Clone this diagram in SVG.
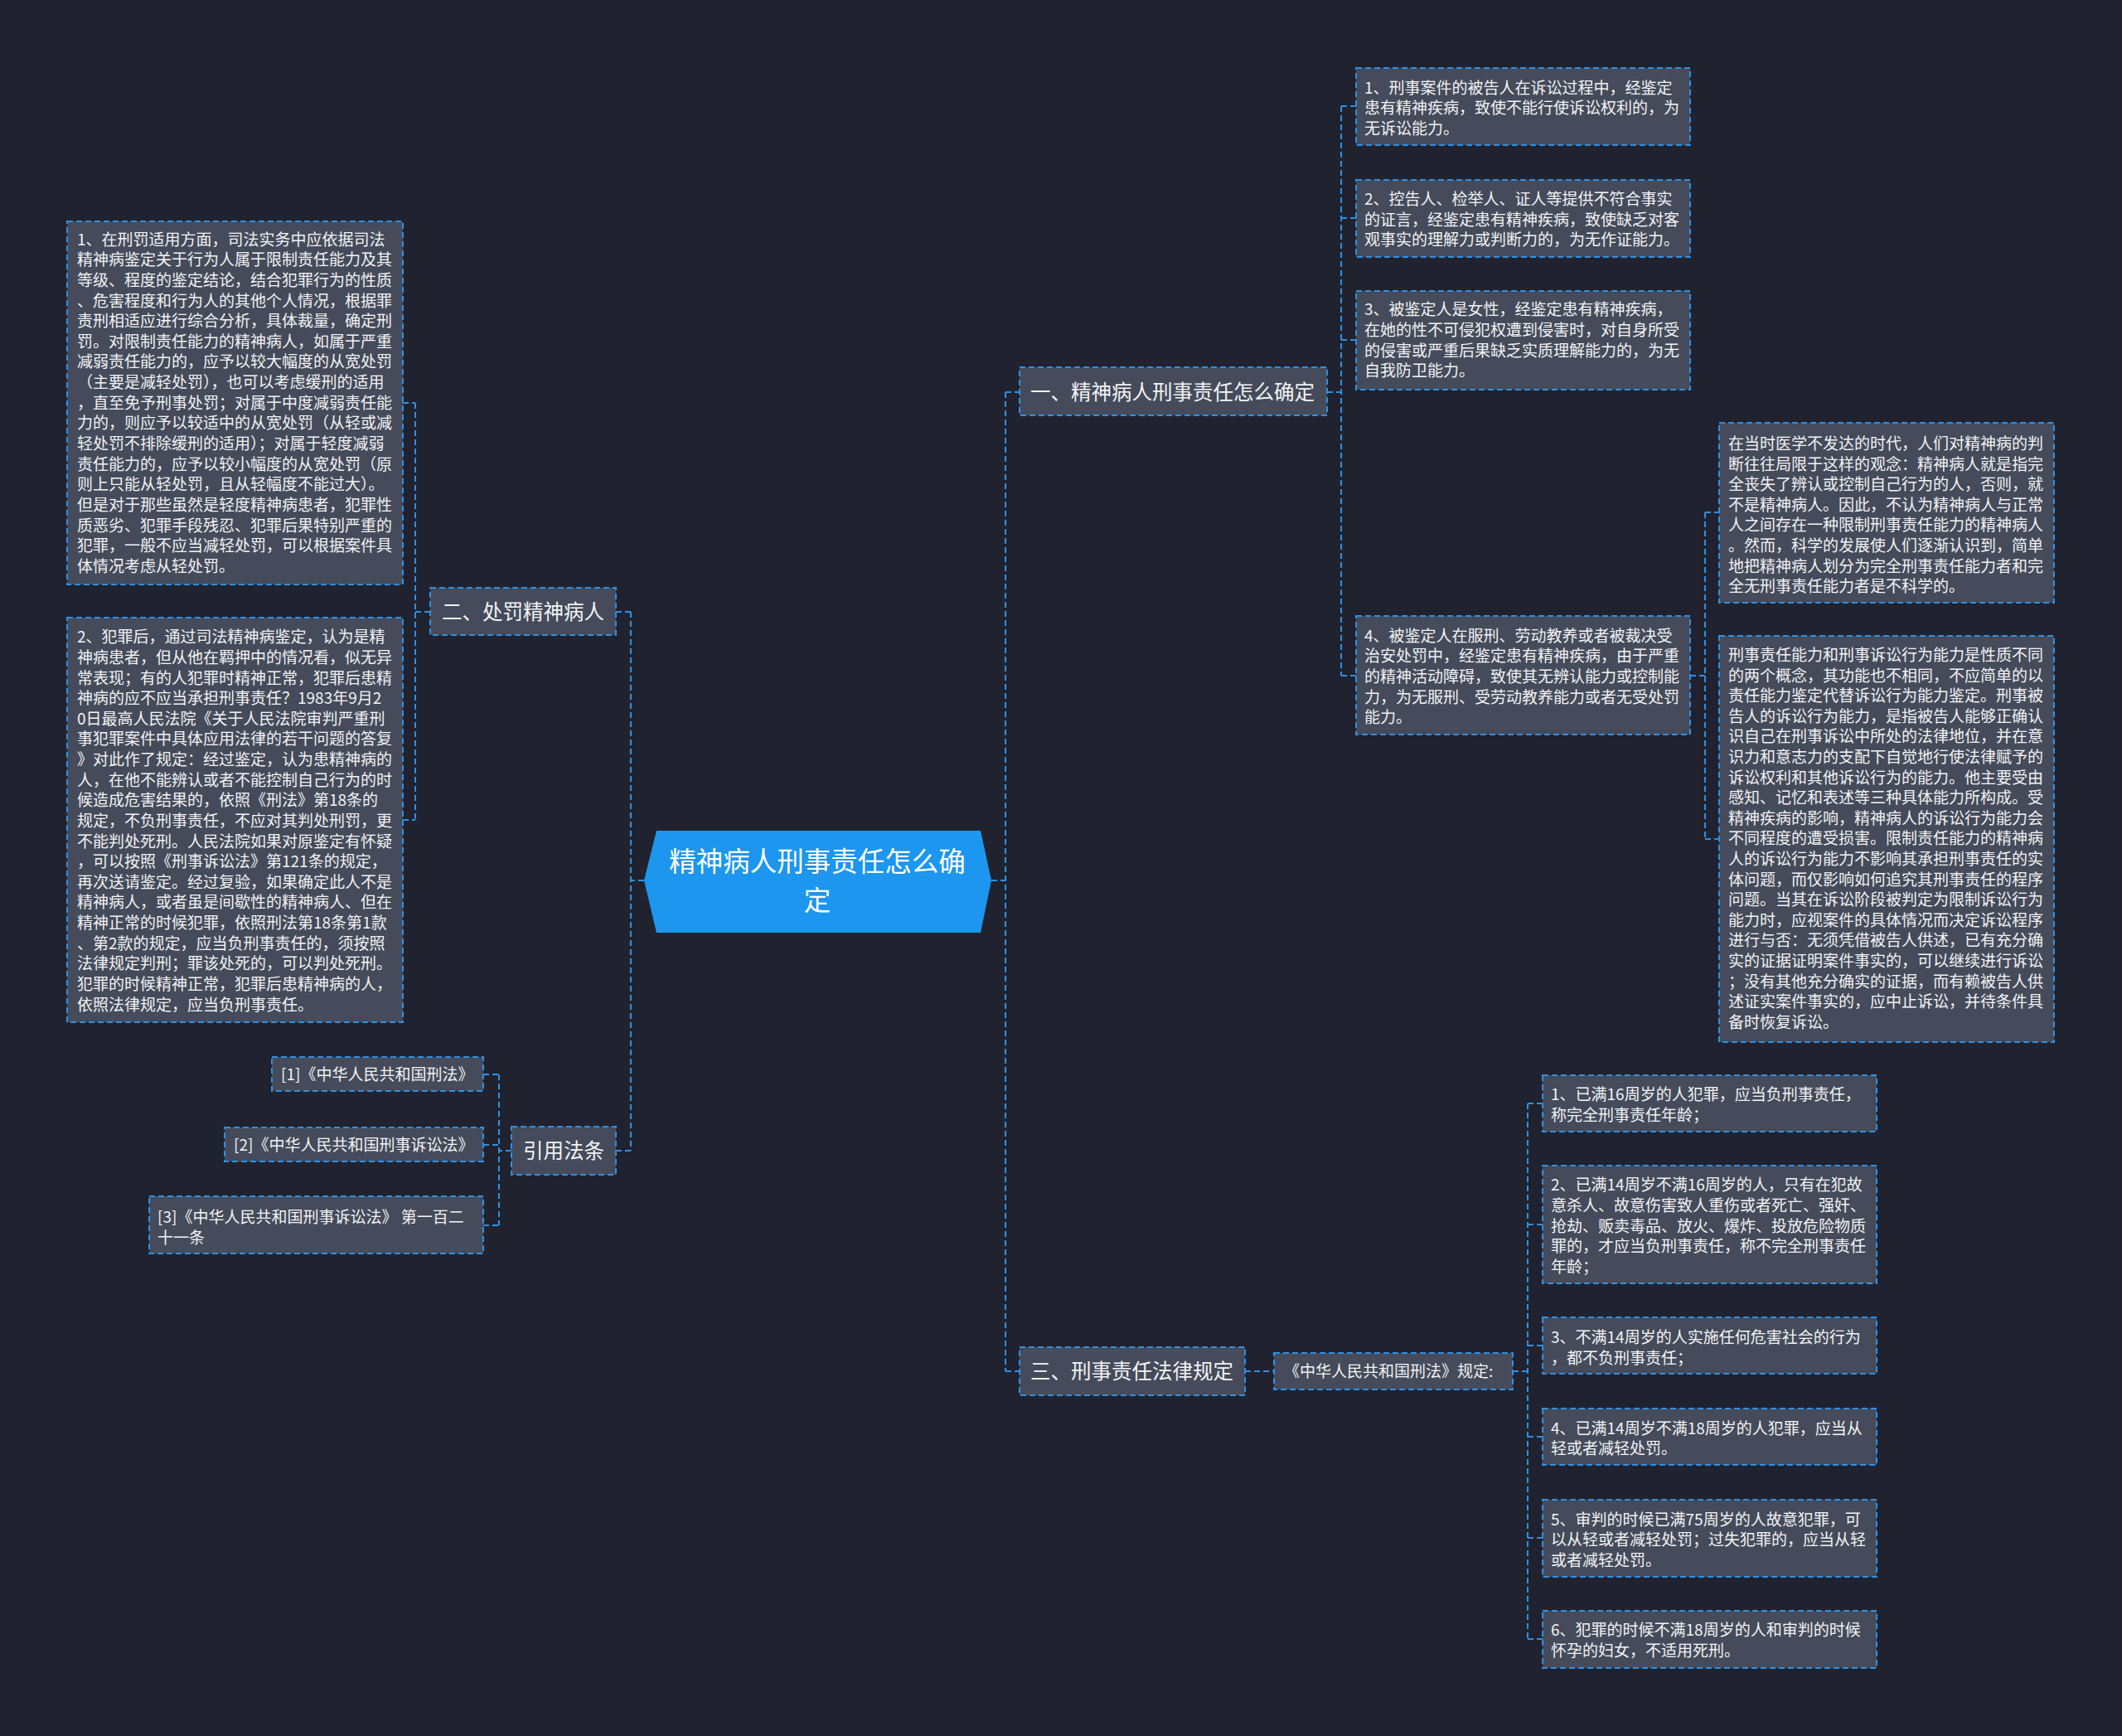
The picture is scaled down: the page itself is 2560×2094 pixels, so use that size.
<svg xmlns="http://www.w3.org/2000/svg" width="2560" height="2094" viewBox="0 0 2560 2094">
<style>
.bg{fill:#20232f}
.box{fill:#454b5a;stroke:#2e8fe4;stroke-width:2;stroke-dasharray:7 4}
.conn path{fill:none;stroke:#2e8fe4;stroke-width:2;stroke-dasharray:7 4}
.s{font-family:"Noto Sans CJK SC","Noto Sans",sans-serif;font-size:19px;fill:#f2f3f5}
.m{font-family:"Noto Sans CJK SC","Noto Sans",sans-serif;font-size:24.5px;fill:#f2f3f5}
.c{font-family:"Noto Sans CJK SC","Noto Sans",sans-serif;font-size:32.5px;fill:#ffffff;text-anchor:middle}
</style>
<rect class="bg" x="0" y="0" width="2560" height="2094"/>
<g class="conn">
<path d="M1196 1062H1213M1213 473V1654M1213 473H1230M1213 1654H1230"/>
<path d="M777 1062H761M761 738V1388M743 738H761M743 1388H761"/>
<path d="M1601 473H1618M1618 128V815M1618 128H1636M1618 263H1636M1618 410H1636M1618 815H1636"/>
<path d="M2039 815H2057M2057 618V1012M2057 618H2074M2057 1012H2074"/>
<path d="M1502 1654H1537M1825 1654H1843M1843 1331V1977M1843 1331H1861M1843 1477H1861M1843 1623H1861M1843 1733H1861M1843 1855H1861M1843 1977H1861"/>
<path d="M519 738H501M501 486V989M486 486H501M486 989H501"/>
<path d="M617 1388H602M602 1296V1478M583 1296H602M583 1381H602M583 1478H602"/>
</g>
<g id="center">
<polygon points="777,1062 792,1002 1183,1002 1196,1062 1183,1125 792,1125" fill="#1c96ee"/>
<text class="c"><tspan x="986" y="1051">精神病人刑事责任怎么确</tspan><tspan x="986" y="1098">定</tspan></text>
</g>
<g id="n1">
<rect class="box" x="1230" y="443" width="371" height="58"/>
<text class="m" x="1243" y="481.5">一、精神病人刑事责任怎么确定</text>
</g>
<g id="n2">
<rect class="box" x="519" y="709" width="224" height="57"/>
<text class="m" x="533" y="746.5">二、处罚精神病人</text>
</g>
<g id="n3">
<rect class="box" x="1230" y="1625" width="272" height="58"/>
<text class="m" x="1243" y="1663">三、刑事责任法律规定</text>
</g>
<g id="n4">
<rect class="box" x="617" y="1359" width="126" height="58"/>
<text class="m" x="631" y="1397">引用法条</text>
</g>
<g id="n1-1">
<rect class="box" x="1636" y="82" width="403" height="93"/>
<text class="s"><tspan x="1646" y="112.7">1、刑事案件的被告人在诉讼过程中，经鉴定</tspan><tspan x="1646" dy="24.6">患有精神疾病，致使不能行使诉讼权利的，为</tspan><tspan x="1646" dy="24.6">无诉讼能力。</tspan></text>
</g>
<g id="n1-2">
<rect class="box" x="1636" y="217" width="403" height="93"/>
<text class="s"><tspan x="1646" y="247">2、控告人、检举人、证人等提供不符合事实</tspan><tspan x="1646" dy="24.6">的证言，经鉴定患有精神疾病，致使缺乏对客</tspan><tspan x="1646" dy="24.6">观事实的理解力或判断力的，为无作证能力。</tspan></text>
</g>
<g id="n1-3">
<rect class="box" x="1636" y="351" width="403" height="119"/>
<text class="s"><tspan x="1646" y="380.3">3、被鉴定人是女性，经鉴定患有精神疾病，</tspan><tspan x="1646" dy="24.6">在她的性不可侵犯权遭到侵害时，对自身所受</tspan><tspan x="1646" dy="24.6">的侵害或严重后果缺乏实质理解能力的，为无</tspan><tspan x="1646" dy="24.6">自我防卫能力。</tspan></text>
</g>
<g id="n1-4">
<rect class="box" x="1636" y="743" width="403" height="143"/>
<text class="s"><tspan x="1646" y="773.7">4、被鉴定人在服刑、劳动教养或者被裁决受</tspan><tspan x="1646" dy="24.6">治安处罚中，经鉴定患有精神疾病，由于严重</tspan><tspan x="1646" dy="24.6">的精神活动障碍，致使其无辨认能力或控制能</tspan><tspan x="1646" dy="24.6">力，为无服刑、受劳动教养能力或者无受处罚</tspan><tspan x="1646" dy="24.6">能力。</tspan></text>
</g>
<g id="n1-4-1">
<rect class="box" x="2074" y="510" width="404" height="217"/>
<text class="s"><tspan x="2085" y="542">在当时医学不发达的时代，人们对精神病的判</tspan><tspan x="2085" dy="24.6">断往往局限于这样的观念：精神病人就是指完</tspan><tspan x="2085" dy="24.6">全丧失了辨认或控制自己行为的人，否则，就</tspan><tspan x="2085" dy="24.6">不是精神病人。因此，不认为精神病人与正常</tspan><tspan x="2085" dy="24.6">人之间存在一种限制刑事责任能力的精神病人</tspan><tspan x="2085" dy="24.6">。然而，科学的发展使人们逐渐认识到，简单</tspan><tspan x="2085" dy="24.6">地把精神病人划分为完全刑事责任能力者和完</tspan><tspan x="2085" dy="24.6">全无刑事责任能力者是不科学的。</tspan></text>
</g>
<g id="n1-4-2">
<rect class="box" x="2074" y="767" width="404" height="490"/>
<text class="s"><tspan x="2085" y="797">刑事责任能力和刑事诉讼行为能力是性质不同</tspan><tspan x="2085" dy="24.6">的两个概念，其功能也不相同，不应简单的以</tspan><tspan x="2085" dy="24.6">责任能力鉴定代替诉讼行为能力鉴定。刑事被</tspan><tspan x="2085" dy="24.6">告人的诉讼行为能力，是指被告人能够正确认</tspan><tspan x="2085" dy="24.6">识自己在刑事诉讼中所处的法律地位，并在意</tspan><tspan x="2085" dy="24.6">识力和意志力的支配下自觉地行使法律赋予的</tspan><tspan x="2085" dy="24.6">诉讼权利和其他诉讼行为的能力。他主要受由</tspan><tspan x="2085" dy="24.6">感知、记忆和表述等三种具体能力所构成。受</tspan><tspan x="2085" dy="24.6">精神疾病的影响，精神病人的诉讼行为能力会</tspan><tspan x="2085" dy="24.6">不同程度的遭受损害。限制责任能力的精神病</tspan><tspan x="2085" dy="24.6">人的诉讼行为能力不影响其承担刑事责任的实</tspan><tspan x="2085" dy="24.6">体问题，而仅影响如何追究其刑事责任的程序</tspan><tspan x="2085" dy="24.6">问题。当其在诉讼阶段被判定为限制诉讼行为</tspan><tspan x="2085" dy="24.6">能力时，应视案件的具体情况而决定诉讼程序</tspan><tspan x="2085" dy="24.6">进行与否：无须凭借被告人供述，已有充分确</tspan><tspan x="2085" dy="24.6">实的证据证明案件事实的，可以继续进行诉讼</tspan><tspan x="2085" dy="24.6">；没有其他充分确实的证据，而有赖被告人供</tspan><tspan x="2085" dy="24.6">述证实案件事实的，应中止诉讼，并待条件具</tspan><tspan x="2085" dy="24.6">备时恢复诉讼。</tspan></text>
</g>
<g id="n2-1">
<rect class="box" x="81" y="267" width="405" height="438"/>
<text class="s"><tspan x="93" y="295.7">1、在刑罚适用方面，司法实务中应依据司法</tspan><tspan x="93" dy="24.63">精神病鉴定关于行为人属于限制责任能力及其</tspan><tspan x="93" dy="24.63">等级、程度的鉴定结论，结合犯罪行为的性质</tspan><tspan x="93" dy="24.63">、危害程度和行为人的其他个人情况，根据罪</tspan><tspan x="93" dy="24.63">责刑相适应进行综合分析，具体裁量，确定刑</tspan><tspan x="93" dy="24.63">罚。对限制责任能力的精神病人，如属于严重</tspan><tspan x="93" dy="24.63">减弱责任能力的，应予以较大幅度的从宽处罚</tspan><tspan x="93" dy="24.63">（主要是减轻处罚），也可以考虑缓刑的适用</tspan><tspan x="93" dy="24.63">，直至免予刑事处罚；对属于中度减弱责任能</tspan><tspan x="93" dy="24.63">力的，则应予以较适中的从宽处罚（从轻或减</tspan><tspan x="93" dy="24.63">轻处罚不排除缓刑的适用）；对属于轻度减弱</tspan><tspan x="93" dy="24.63">责任能力的，应予以较小幅度的从宽处罚（原</tspan><tspan x="93" dy="24.63">则上只能从轻处罚，且从轻幅度不能过大）。</tspan><tspan x="93" dy="24.63">但是对于那些虽然是轻度精神病患者，犯罪性</tspan><tspan x="93" dy="24.63">质恶劣、犯罪手段残忍、犯罪后果特别严重的</tspan><tspan x="93" dy="24.63">犯罪，一般不应当减轻处罚，可以根据案件具</tspan><tspan x="93" dy="24.63">体情况考虑从轻处罚。</tspan></text>
</g>
<g id="n2-2">
<rect class="box" x="81" y="745" width="405" height="488"/>
<text class="s"><tspan x="93" y="775.3">2、犯罪后，通过司法精神病鉴定，认为是精</tspan><tspan x="93" dy="24.63">神病患者，但从他在羁押中的情况看，似无异</tspan><tspan x="93" dy="24.63">常表现；有的人犯罪时精神正常，犯罪后患精</tspan><tspan x="93" dy="24.63">神病的应不应当承担刑事责任？1983年9月2</tspan><tspan x="93" dy="24.63">0日最高人民法院《关于人民法院审判严重刑</tspan><tspan x="93" dy="24.63">事犯罪案件中具体应用法律的若干问题的答复</tspan><tspan x="93" dy="24.63">》对此作了规定：经过鉴定，认为患精神病的</tspan><tspan x="93" dy="24.63">人，在他不能辨认或者不能控制自己行为的时</tspan><tspan x="93" dy="24.63">候造成危害结果的，依照《刑法》第18条的</tspan><tspan x="93" dy="24.63">规定，不负刑事责任，不应对其判处刑罚，更</tspan><tspan x="93" dy="24.63">不能判处死刑。人民法院如果对原鉴定有怀疑</tspan><tspan x="93" dy="24.63">，可以按照《刑事诉讼法》第121条的规定，</tspan><tspan x="93" dy="24.63">再次送请鉴定。经过复验，如果确定此人不是</tspan><tspan x="93" dy="24.63">精神病人，或者虽是间歇性的精神病人、但在</tspan><tspan x="93" dy="24.63">精神正常的时候犯罪，依照刑法第18条第1款</tspan><tspan x="93" dy="24.63">、第2款的规定，应当负刑事责任的，须按照</tspan><tspan x="93" dy="24.63">法律规定判刑；罪该处死的，可以判处死刑。</tspan><tspan x="93" dy="24.63">犯罪的时候精神正常，犯罪后患精神病的人，</tspan><tspan x="93" dy="24.63">依照法律规定，应当负刑事责任。</tspan></text>
</g>
<g id="n4-1">
<rect class="box" x="328" y="1275" width="255" height="41"/>
<text class="s" x="339" y="1303">[1]《中华人民共和国刑法》</text>
</g>
<g id="n4-2">
<rect class="box" x="271" y="1360" width="312" height="41"/>
<text class="s" x="282" y="1388">[2]《中华人民共和国刑事诉讼法》</text>
</g>
<g id="n4-3">
<rect class="box" x="180" y="1443" width="403" height="69"/>
<text class="s"><tspan x="190" y="1475">[3]《中华人民共和国刑事诉讼法》 第一百二</tspan><tspan x="190" dy="24.6">十一条</tspan></text>
</g>
<g id="n3-0">
<rect class="box" x="1537" y="1632" width="288" height="44"/>
<text class="s" x="1549" y="1661">《中华人民共和国刑法》规定:</text>
</g>
<g id="n3-1">
<rect class="box" x="1861" y="1297" width="403" height="68"/>
<text class="s"><tspan x="1871" y="1327">1、已满16周岁的人犯罪，应当负刑事责任，</tspan><tspan x="1871" dy="24.6">称完全刑事责任年龄；</tspan></text>
</g>
<g id="n3-2">
<rect class="box" x="1861" y="1406" width="403" height="142"/>
<text class="s"><tspan x="1871" y="1436.3">2、已满14周岁不满16周岁的人，只有在犯故</tspan><tspan x="1871" dy="24.6">意杀人、故意伤害致人重伤或者死亡、强奸、</tspan><tspan x="1871" dy="24.6">抢劫、贩卖毒品、放火、爆炸、投放危险物质</tspan><tspan x="1871" dy="24.6">罪的，才应当负刑事责任，称不完全刑事责任</tspan><tspan x="1871" dy="24.6">年龄；</tspan></text>
</g>
<g id="n3-3">
<rect class="box" x="1861" y="1589" width="403" height="68"/>
<text class="s"><tspan x="1871" y="1620.3">3、不满14周岁的人实施任何危害社会的行为</tspan><tspan x="1871" dy="24.6">，都不负刑事责任；</tspan></text>
</g>
<g id="n3-4">
<rect class="box" x="1861" y="1699" width="403" height="68"/>
<text class="s"><tspan x="1871" y="1729.7">4、已满14周岁不满18周岁的人犯罪，应当从</tspan><tspan x="1871" dy="24.6">轻或者减轻处罚。</tspan></text>
</g>
<g id="n3-5">
<rect class="box" x="1861" y="1809" width="403" height="93"/>
<text class="s"><tspan x="1871" y="1839.7">5、审判的时候已满75周岁的人故意犯罪，可</tspan><tspan x="1871" dy="24.6">以从轻或者减轻处罚；过失犯罪的，应当从轻</tspan><tspan x="1871" dy="24.6">或者减轻处罚。</tspan></text>
</g>
<g id="n3-6">
<rect class="box" x="1861" y="1943" width="403" height="69"/>
<text class="s"><tspan x="1871" y="1973">6、犯罪的时候不满18周岁的人和审判的时候</tspan><tspan x="1871" dy="24.6">怀孕的妇女，不适用死刑。</tspan></text>
</g>
</svg>
